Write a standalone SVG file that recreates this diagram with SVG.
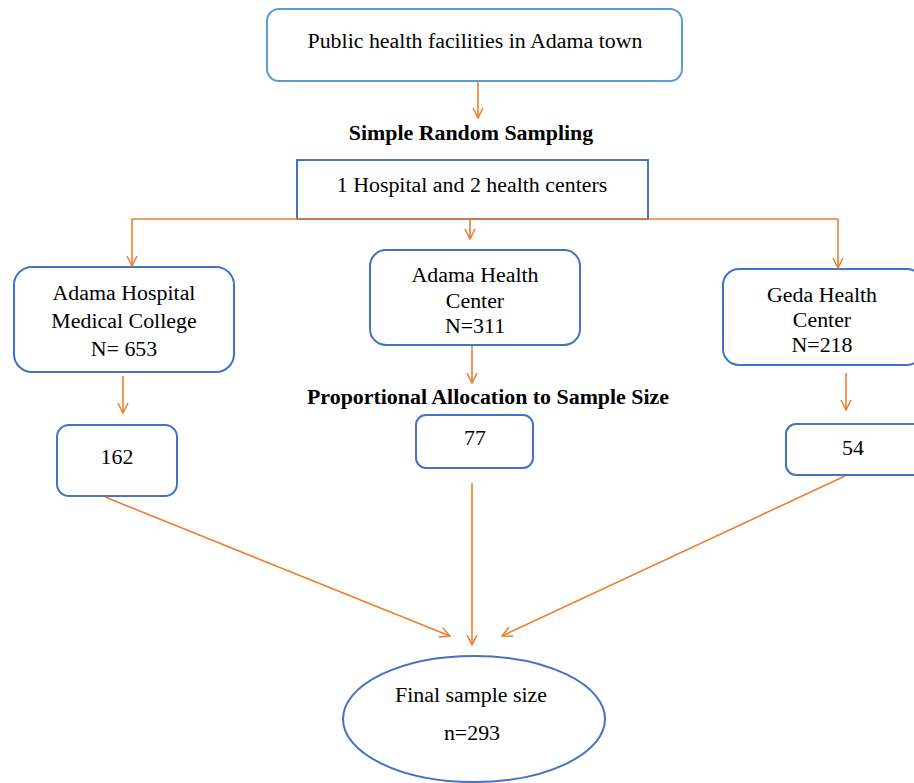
<svg xmlns="http://www.w3.org/2000/svg" width="914" height="783" viewBox="0 0 914 783">
<defs>
<marker id="ah" viewBox="0 0 12 12" refX="11" refY="6" markerWidth="12" markerHeight="12" markerUnits="userSpaceOnUse" orient="auto">
<path d="M1,1 L11,6 L1,11" fill="none" stroke="#ED7D31" stroke-width="1.5"/>
</marker>
<style>
.t{font-family:"Liberation Serif","Times New Roman",serif;font-size:21.9px;fill:#000;text-anchor:middle}
.b{font-weight:bold}
.box{fill:#fff;stroke:#4472C4;stroke-width:2}
.lt{stroke:#5B9BD5}
.c{fill:none;stroke:#ED7D31;stroke-width:1.6}
.a{marker-end:url(#ah)}
</style>
</defs>
<rect width="914" height="783" fill="#fff"/>
<g id="top">
<rect class="box lt" x="267" y="9" width="415" height="72" rx="12"/>
<text class="t" x="475" y="48">Public health facilities in Adama town</text>
</g>
<text class="t b" x="471" y="140">Simple Random Sampling</text>
<g id="selected">
<rect class="box" x="297" y="160" width="351" height="59"/>
<text class="t" x="472" y="192">1 Hospital and 2 health centers</text>
</g>
<g id="hospital">
<rect class="box" x="14" y="267" width="220" height="105" rx="18"/>
<text class="t" x="124" y="300">Adama Hospital</text>
<text class="t" x="124" y="328">Medical College</text>
<text class="t" x="124" y="356">N= 653</text>
</g>
<g id="adamahc">
<rect class="box" x="370" y="250" width="210" height="95" rx="16"/>
<text class="t" x="475" y="282">Adama Health</text>
<text class="t" x="475" y="308">Center</text>
<text class="t" x="475" y="333">N=311</text>
</g>
<g id="gedahc">
<rect class="box" x="723" y="269" width="200" height="96" rx="16"/>
<text class="t" x="822" y="302">Geda Health</text>
<text class="t" x="822" y="327">Center</text>
<text class="t" x="822" y="352">N=218</text>
</g>
<text class="t b" x="488" y="404">Proportional Allocation to Sample Size</text>
<g id="s162">
<rect class="box" x="57" y="425" width="120" height="71" rx="12"/>
<text class="t" x="117" y="464">162</text>
</g>
<g id="s77">
<rect class="box" x="416" y="415" width="117" height="53" rx="10"/>
<text class="t" x="475" y="445">77</text>
</g>
<g id="s54">
<rect class="box" x="786" y="424" width="140" height="51" rx="10"/>
<text class="t" x="853" y="455">54</text>
</g>
<g id="final">
<ellipse class="box" cx="474" cy="719" rx="131" ry="63"/>
<text class="t" x="471" y="702">Final sample size</text>
<text class="t" x="472" y="740">n=293</text>
</g>
<g id="connectors">
<line class="c a" x1="478" y1="82" x2="478" y2="118"/>
<polyline class="c" points="132,219 838,219"/>
<line class="c a" x1="132" y1="219" x2="132" y2="266"/>
<line class="c a" x1="470" y1="219" x2="470" y2="239"/>
<line class="c a" x1="838" y1="219" x2="838" y2="268"/>
<line class="c a" x1="123" y1="376" x2="123" y2="413"/>
<line class="c a" x1="472" y1="346" x2="472" y2="383"/>
<line class="c a" x1="846" y1="373" x2="846" y2="410"/>
<line class="c a" x1="105" y1="497" x2="450" y2="636"/>
<line class="c a" x1="472" y1="483" x2="472" y2="645"/>
<line class="c a" x1="845" y1="476" x2="502" y2="636"/>
</g>
</svg>
